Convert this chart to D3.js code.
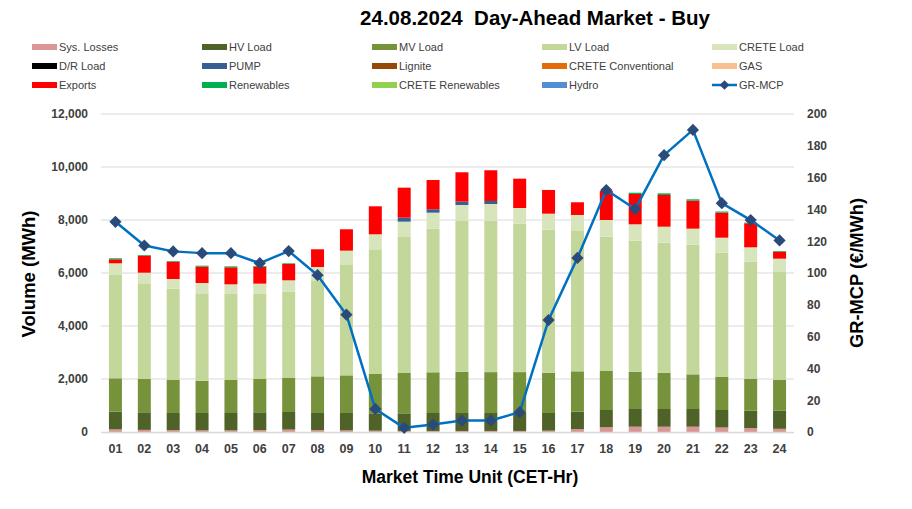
<!DOCTYPE html>
<html>
<head>
<meta charset="utf-8">
<script src="https://cdn.jsdelivr.net/npm/d3@7"></script>
<style>
  html, body { margin: 0; padding: 0; background: #fff; }
  svg { display: block; font-family: "Liberation Sans", Arial, sans-serif; }
</style>
</head>
<body>
<svg id="chart" width="912" height="509"></svg>
<script>
// ---------------- DATA ----------------
const hours = ["01","02","03","04","05","06","07","08","09","10","11","12","13","14","15","16","17","18","19","20","21","22","23","24"];
const sysLosses   = [100,80,70,60,60,70,90,70,60,50,40,40,40,40,40,50,110,180,200,200,200,170,150,120];
const hvLoad      = [670,663,647,657,657,673,665,647,657,654,664,677,677,677,677,667,656,650,668,668,668,660,655,680];
const mvLoad      = [1257,1257,1245,1219,1245,1257,1283,1383,1421,1485,1523,1536,1559,1543,1543,1521,1524,1472,1408,1370,1308,1246,1208,1162];
const lvLoad      = [3898,3611,3446,3298,3246,3208,3258,3599,4164,4705,5133,5420,5687,5715,5601,5397,5296,5069,4944,4907,4893,4691,4414,4102];
const creteLoad   = [441,401,366,389,365,390,428,528,541,566,577,604,604,629,592,604,604,629,618,603,604,566,543,477];
const drLoad      = [0,0,0,0,0,0,0,0,0,0,0,0,0,0,0,0,0,0,0,0,0,0,0,0];
const pump        = [0,0,0,0,0,0,0,0,0,0,151,127,125,114,0,0,0,0,0,0,0,0,0,0];
const lignite     = [0,0,0,0,0,0,0,0,0,0,0,0,0,0,0,0,0,0,0,0,0,0,0,0];
const creteConv   = [0,0,0,0,0,0,0,0,0,0,0,0,0,0,0,0,0,0,0,0,0,0,0,0];
const gas         = [0,0,0,0,0,0,0,0,0,0,0,0,0,0,0,0,0,0,0,0,0,0,0,0];
const exportsVol  = [151,642,653,616,642,641,616,668,807,1057,1132,1106,1109,1159,1107,894,479,1100,1144,1196,1057,944,906,264];
const renewables  = [38,26,23,38,35,26,25,0,0,0,0,0,0,0,0,0,0,0,48,62,50,43,24,25];
const creteRenew  = [0,0,0,0,0,0,0,0,0,0,0,0,0,0,0,0,0,0,0,0,0,0,0,0];
const hydro       = [0,0,0,0,0,0,0,0,0,0,0,0,0,0,0,0,0,0,0,0,0,0,0,0];
const grMcp       = [132.2,117.3,113.6,112.5,112.5,106.2,113.8,98.6,73.8,14.5,2.6,4.7,7.2,7.2,12.5,70.4,109.5,152.2,140.2,174.1,190,143.9,133.3,120.5];

const volumeTicks = [0,2000,4000,6000,8000,10000,12000];
const priceTicks  = [0,20,40,60,80,100,120,140,160,180,200];

const seriesNames  = ["Sys. Losses","HV Load","MV Load","LV Load","CRETE Load","D/R Load","PUMP","Lignite","CRETE Conventional","GAS","Exports","Renewables","CRETE Renewables","Hydro"];
const seriesValues = [sysLosses,hvLoad,mvLoad,lvLoad,creteLoad,drLoad,pump,lignite,creteConv,gas,exportsVol,renewables,creteRenew,hydro];
const seriesColors = ["#DA9694","#4F6228","#76933C","#C4D79B","#D8E4BC","#000000","#366092","#974706","#E26B0A","#FABF8F","#FF0000","#00B050","#92D050","#538DD5"];
const lineName = "GR-MCP";

// ---------------- LAYOUT ----------------
const svg = d3.select("#chart");
const plotLeft = 101, plotRight = 794, plotTop = 114, plotBottom = 432;

const table = hours.map((h, i) => {
  const row = { hour: h };
  seriesNames.forEach((n, k) => row[n] = seriesValues[k][i]);
  return row;
});
const stack = d3.stack().keys(seriesNames)(table);

const x = d3.scaleBand().domain(hours).range([plotLeft, plotRight]).paddingInner(0.55).paddingOuter(0.275);
const y = d3.scaleLinear().domain([0, 12000]).range([plotBottom, plotTop]);
const y2 = d3.scaleLinear().domain([0, 200]).range([plotBottom, plotTop]);

// gridlines
svg.append("g")
  .selectAll("line").data(volumeTicks.filter(t => t > 0)).join("line")
  .attr("x1", plotLeft).attr("x2", plotRight)
  .attr("y1", d => y(d)).attr("y2", d => y(d))
  .attr("stroke", "#D9D9D9").attr("stroke-width", 1);

// bars
const layers = svg.append("g").selectAll("g").data(stack).join("g")
  .attr("fill", (d, i) => seriesColors[i]);
layers.selectAll("rect").data(d => d.filter(s => s[1] - s[0] > 0)).join("rect")
  .attr("x", d => x(d.data.hour))
  .attr("width", x.bandwidth())
  .attr("y", d => y(d[1]))
  .attr("height", d => y(d[0]) - y(d[1]));

// baseline
svg.append("line").attr("x1", plotLeft).attr("x2", plotRight)
  .attr("y1", plotBottom + 0.5).attr("y2", plotBottom + 0.5)
  .attr("stroke", "#D9D9D9").attr("stroke-width", 1.5);

// left axis
const yAxis = d3.axisLeft(y).tickValues(volumeTicks).tickFormat(d3.format(",")).tickSize(0).tickPadding(0);
const gy = svg.append("g").attr("transform", `translate(88,0)`).call(yAxis);
gy.select(".domain").remove();
gy.selectAll("text").attr("font-size", 12).attr("font-weight", "bold").attr("fill", "#404040");

// right axis
const y2Axis = d3.axisRight(y2).tickValues(priceTicks).tickSize(0).tickPadding(0);
const gy2 = svg.append("g").attr("transform", `translate(807,0)`).call(y2Axis);
gy2.select(".domain").remove();
gy2.selectAll("text").attr("font-size", 12).attr("font-weight", "bold").attr("fill", "#404040");

// x axis
const xAxis = d3.axisBottom(x).tickSize(0).tickPadding(0);
const gx = svg.append("g").attr("transform", `translate(0,444)`).call(xAxis);
gx.select(".domain").remove();
gx.selectAll("text").attr("font-size", 12.5).attr("font-weight", "bold").attr("fill", "#404040");

// line
const line = d3.line().x((d, i) => x(hours[i]) + x.bandwidth() / 2).y(d => y2(d));
svg.append("path").datum(grMcp).attr("d", line)
  .attr("fill", "none").attr("stroke", "#0070C0").attr("stroke-width", 2.5).attr("stroke-linejoin", "round");
const diamond = d3.symbol().type(d3.symbolDiamond2).size(95);
svg.append("g").selectAll("path").data(grMcp).join("path")
  .attr("d", diamond)
  .attr("transform", (d, i) => `translate(${x(hours[i]) + x.bandwidth() / 2},${y2(d)})`)
  .attr("fill", "#2A4A7A");

// titles
svg.append("text").attr("x", 535).attr("y", 25).attr("text-anchor", "middle")
  .attr("font-size", 20.5).attr("font-weight", "bold").attr("fill", "#000")
  .style("white-space", "pre").text("24.08.2024  Day-Ahead Market - Buy");
svg.append("text").attr("x", 470).attr("y", 483).attr("text-anchor", "middle")
  .attr("font-size", 17.5).attr("font-weight", "bold").attr("fill", "#000")
  .text("Market Time Unit (CET-Hr)");
svg.append("text").attr("transform", "translate(35,274) rotate(-90)").attr("text-anchor", "middle")
  .attr("font-size", 18.5).attr("font-weight", "bold").attr("fill", "#000")
  .text("Volume (MWh)");
svg.append("text").attr("transform", "translate(863,273) rotate(-90)").attr("text-anchor", "middle")
  .attr("font-size", 18.3).attr("font-weight", "bold").attr("fill", "#000")
  .text("GR-MCP (€/MWh)");

// legend
const legendItems = seriesNames.map((n, i) => ({ name: n, color: seriesColors[i], type: "bar" }))
  .concat([{ name: lineName, color: "#0070C0", type: "line" }]);
const lg = svg.append("g").selectAll("g").data(legendItems).join("g")
  .attr("transform", (d, i) => `translate(${32 + (i % 5) * 170},${47 + Math.floor(i / 5) * 19})`);
lg.filter(d => d.type === "bar").append("rect")
  .attr("x", 0).attr("y", -3).attr("width", 25).attr("height", 6).attr("fill", d => d.color);
lg.filter(d => d.type === "line").append("line")
  .attr("x1", 0).attr("x2", 25).attr("y1", 0).attr("y2", 0).attr("stroke", "#0070C0").attr("stroke-width", 2.5);
lg.filter(d => d.type === "line").append("path")
  .attr("d", d3.symbol().type(d3.symbolDiamond2).size(60)).attr("transform", "translate(12.5,0)").attr("fill", "#2A4A7A");
lg.append("text").attr("x", 27).attr("y", 4).attr("font-size", 11).attr("fill", "#404040").text(d => d.name);
</script>
</body>
</html>
